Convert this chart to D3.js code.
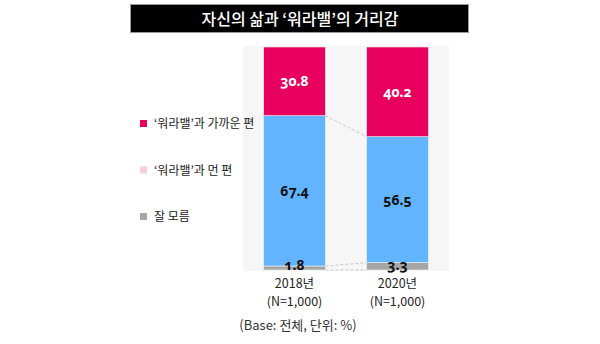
<!DOCTYPE html>
<html>
<head>
<meta charset="utf-8">
<script src="https://cdn.jsdelivr.net/npm/d3@7/dist/d3.min.js"></script>
<style>
  html, body { margin: 0; padding: 0; background: #fff; }
  svg { display: block; }
  text { font-family: "Noto Sans CJK KR", "Noto Sans", sans-serif; }
  .num { font-family: "Noto Sans", "Open Sans", sans-serif; font-weight: 700; font-variant-numeric: oldstyle-nums; }
</style>
</head>
<body>
<svg id="chart" width="600" height="344"></svg>
<script>
// Survey years and sample sizes
const years = ["2018년", "2020년"];
const samples = ["(N=1,000)", "(N=1,000)"];
// Stack order from top to bottom
const seriesNames = ["'워라밸'과 가까운 편", "'워라밸'과 먼 편", "잘 모름"];
const nearValues = [30.8, 40.2];
const farValues = [67.4, 56.5];
const unknownValues = [1.8, 3.3];
const barColors = ["#e8005f", "#63b4ff", "#a6a6a6"];
const legendColors = ["#e8005f", "#f8cde0", "#a6a6a6"];
const labelColors = ["#ffffff", "#111111", "#111111"];

const title = "자신의 삶과 '워라밸'의 거리감";
const note = "(Base: 전체, 단위: %)";

const svg = d3.select("#chart");

// Title bar
svg.append("rect").attr("x", 130.5).attr("y", 4.5).attr("width", 338).attr("height", 28)
  .attr("fill", "#000").attr("stroke", "#9a9a9a").attr("stroke-width", 1);
svg.append("text").attr("x", 300).attr("y", 24.5).attr("text-anchor", "middle")
  .attr("fill", "#fff").attr("font-size", 16).attr("font-weight", 500)
  .text(title.replace(/'/, "\u2018").replace(/'/, "\u2019"));

// Plot background panel
svg.append("rect").attr("x", 243).attr("y", 46).attr("width", 206).attr("height", 225).attr("fill", "#f6f6f6");

const x = d3.scaleBand().domain(years).range([243, 449]).paddingInner(0.4).paddingOuter(0.2);
const y = d3.scaleLinear().domain([0, 100]).range([270, 47]);

// Stack top-to-bottom: near on top, then far, then unknown at baseline
const rows = years.map((yr, i) => ({ year: yr, unknown: unknownValues[i], far: farValues[i], near: nearValues[i] }));
const stack = d3.stack().keys(["unknown", "far", "near"]);
const layers = stack(rows);
const keyIndex = { near: 0, far: 1, unknown: 2 };

// Dashed connectors between adjacent bars
const connectorY = [
  rows.map(r => r.unknown + r.far),
  rows.map(r => r.unknown),
  rows.map(() => 0)
];
connectorY.forEach(v => {
  svg.append("line")
    .attr("x1", x(years[0]) + x.bandwidth()).attr("y1", y(v[0]))
    .attr("x2", x(years[1])).attr("y2", y(v[1]))
    .attr("stroke", "#c8c8c8").attr("stroke-width", 1).attr("stroke-dasharray", "3,2");
});

layers.forEach(layer => {
  const k = keyIndex[layer.key];
  svg.append("g").selectAll("rect").data(layer).join("rect")
    .attr("x", d => x(d.data.year))
    .attr("y", d => y(d[1]))
    .attr("width", x.bandwidth())
    .attr("height", d => y(d[0]) - y(d[1]))
    .attr("fill", barColors[k])
    .attr("stroke", "#f2f2f2").attr("stroke-width", 0.6);
});

// Value labels
layers.forEach(layer => {
  const k = keyIndex[layer.key];
  svg.append("g").selectAll("text").data(layer).join("text")
    .attr("class", "num")
    .attr("x", d => x(d.data.year) + x.bandwidth() / 2)
    .attr("y", d => layer.key === "unknown" ? y(0) - 0.5 : (y(d[0]) + y(d[1])) / 2 + 5)
    .attr("text-anchor", "middle")
    .attr("font-size", 14)
    .attr("fill", labelColors[k])
    .text(d => (d[1] - d[0]).toFixed(1));
});

// Category labels
years.forEach((yr, i) => {
  const cx = x(yr) + x.bandwidth() / 2;
  svg.append("text").attr("x", cx).attr("y", 288).attr("text-anchor", "middle")
    .attr("font-size", 12.5).attr("fill", "#222").text(yr);
  svg.append("text").attr("x", cx).attr("y", 306).attr("text-anchor", "middle")
    .attr("font-size", 12.5).attr("fill", "#222").text(samples[i]);
});

// Legend
const legendY = [124, 170.5, 217];
seriesNames.forEach((name, i) => {
  svg.append("rect").attr("x", 140).attr("y", legendY[i] - 4).attr("width", 7).attr("height", 7).attr("fill", legendColors[i]);
  svg.append("text").attr("x", 154).attr("y", legendY[i] + 4).attr("font-size", 12).attr("fill", "#222")
    .text(name.replace(/'/, "\u2018").replace(/'/, "\u2019"));
});

// Footnote
svg.append("text").attr("x", 298).attr("y", 330).attr("text-anchor", "middle")
  .attr("font-size", 13).attr("fill", "#333").text(note);
</script>
</body>
</html>
